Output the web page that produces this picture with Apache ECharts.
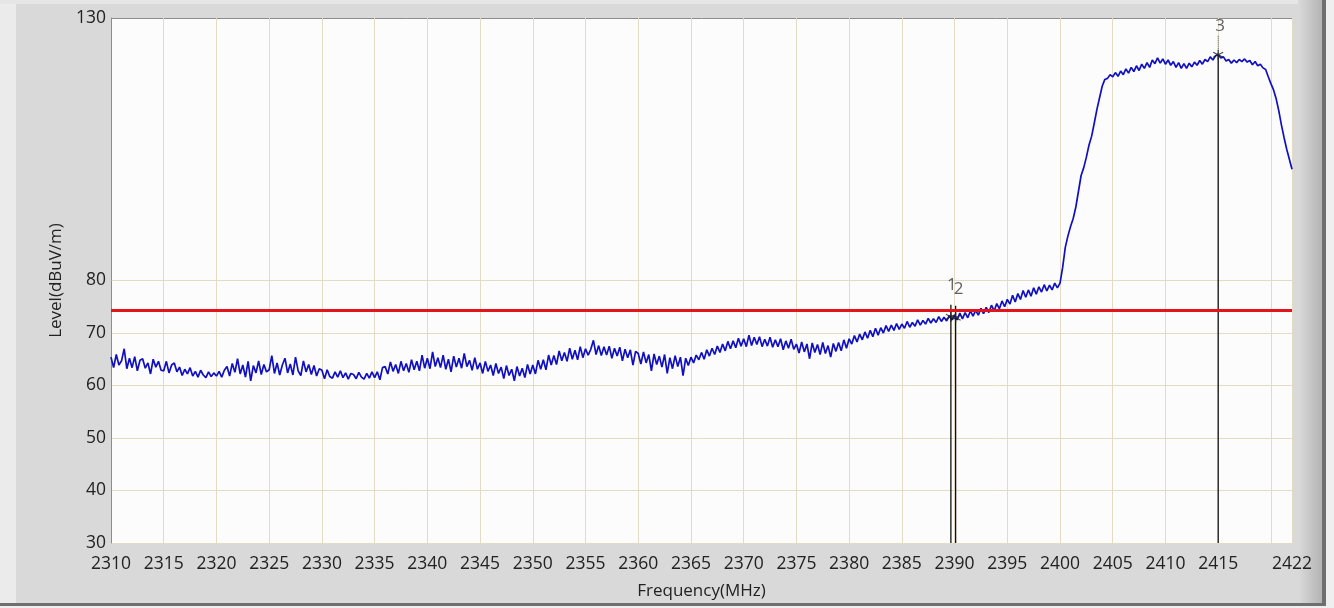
<!DOCTYPE html>
<html>
<head>
<meta charset="utf-8">
<title>Level vs Frequency</title>
<script src="https://cdn.jsdelivr.net/npm/echarts@6/dist/echarts.min.js"></script>
<style>
    html, body { margin: 0; padding: 0; background: #d9d9d9; }
    #chart { width: 1334px; height: 608px; }
</style>
</head>
<body>
<div id="chart"></div>
<script>
    // trace: one level every 0.25 MHz from 2310 MHz
    const freqStart = 2310;
    const freqStep = 0.25;
    const levels = [
        65.4,63.4,65.9,63.9, 64.7,67.0,63.2,65.2, 63.4,65.5,62.8,64.8, 65.1,63.3,64.3,62.2, 65.0,63.5,64.6,62.9,
        62.8,64.6,62.4,63.9, 64.3,62.6,63.5,61.9, 63.1,62.2,63.4,61.8, 62.7,61.6,62.9,62.0, 61.5,62.6,61.7,62.4,
        61.8,62.7,61.6,62.9, 63.6,61.8,64.2,62.5, 65.1,62.2,63.9,61.6, 64.6,60.9,63.8,62.4, 64.7,62.1,64.0,62.6,
        63.0,65.7,62.3,64.3, 62.0,63.9,65.2,62.4, 64.1,62.0,65.4,62.8, 61.9,64.7,62.6,64.0, 62.1,63.8,61.8,63.2,
        62.9,61.3,63.0,61.7, 61.4,62.6,61.6,62.8, 61.5,62.4,61.2,62.3, 62.1,61.3,62.5,61.6, 61.2,62.3,61.4,62.6,
        61.5,62.6,61.1,63.4, 63.6,62.2,64.5,62.7, 64.0,62.3,64.6,62.8, 64.2,62.5,64.9,63.0, 64.6,62.8,65.8,63.3,
        65.2,63.2,66.4,63.6, 65.3,63.4,65.8,63.1, 65.0,62.6,65.6,63.5, 65.2,63.3,66.1,63.6, 64.8,62.9,65.3,63.1,
        64.3,62.3,64.6,62.7, 63.9,61.9,64.2,62.3, 63.5,61.3,63.8,61.9, 63.1,60.9,63.6,61.8, 63.3,61.5,64.0,62.2,
        63.9,62.2,64.8,63.1, 64.9,63.0,65.8,63.9, 65.7,64.0,66.6,64.7, 66.3,64.6,67.1,65.0, 66.7,64.9,67.4,65.3,
        67.0,65.8,66.9,68.6, 65.9,67.6,65.7,67.4, 65.8,67.5,65.2,67.1, 65.6,67.3,64.7,66.9, 65.3,66.8,63.9,66.5,
        66.1,64.1,66.4,64.3, 65.9,62.8,66.0,64.0, 65.6,63.5,65.9,62.3, 65.3,63.2,65.7,63.6, 65.4,61.9,65.2,63.8,
        65.4,64.3,65.8,64.9, 66.3,65.0,66.8,65.6, 67.1,65.9,67.5,66.3, 67.9,66.6,68.4,67.0, 68.5,67.2,69.0,67.5,
        68.9,67.4,69.6,67.6, 69.2,67.8,69.3,67.4, 68.8,67.5,69.2,67.3, 68.7,67.4,68.9,66.8, 68.5,67.1,68.8,66.9,
        67.9,66.2,68.3,66.4, 67.9,65.1,68.1,66.3, 67.8,65.9,68.2,66.1, 67.6,65.4,68.0,66.5, 68.2,66.6,68.7,67.1,
        68.9,67.9,69.5,68.3, 69.8,68.7,70.2,69.0, 70.5,69.3,70.9,69.6, 71.0,70.0,71.4,70.3, 71.5,70.5,71.8,70.7,
        71.7,70.9,72.2,71.1, 72.0,71.3,72.5,71.5, 72.4,71.7,72.8,71.9, 72.7,72.0,73.1,72.2, 73.0,72.3,73.3,72.5,
        73.4,72.5,73.8,72.7, 73.9,72.9,74.2,73.2, 74.3,73.4,74.7,73.7, 74.9,73.9,75.3,74.2, 75.6,74.6,76.1,75.0,
        76.4,75.5,77.2,75.9, 77.5,76.4,78.1,76.8, 78.2,77.0,78.6,77.4, 78.8,77.8,79.2,78.0, 79.1,78.2,79.5,78.6,
        79.5,82.5,86.3,88.5, 90.3,91.8,94.0,97.0, 100.0,101.5,103.5,105.8, 107.5,110.0,112.6,114.8, 117.0,118.3,118.5,119.2,
        118.8,119.6,118.9,119.9, 119.2,120.3,119.5,120.6, 119.8,120.9,120.0,121.2, 120.4,121.5,120.6,122.0, 121.3,122.4,121.4,122.2,
        121.2,122.0,121.0,121.7, 120.6,121.5,120.4,121.3, 120.4,121.4,120.7,121.6, 121.0,121.9,121.2,122.1, 121.7,122.6,122.0,122.8,
        123.1,122.4,122.6,121.8, 122.1,121.4,122.0,121.5, 122.1,121.7,122.2,121.6, 121.9,121.1,121.7,120.9, 121.2,120.5,120.2,118.8,
        117.5,116.3,114.6,112.3, 109.6,107.2,105.0,103.1, 101.2
    ];

    const limitLevel = 74.3;

    const markerNames = ['1', '2', '3'];
    const markerFreqs = [2389.65, 2390.1, 2415];
    const markerLevels = [73.1, 72.9, 123.0];

    const yTicks = [30, 40, 50, 60, 70, 80, 130];

    const gridColor = '#e3dcc4';
    const fontFamily = '"Open Sans", "Noto Sans", sans-serif';

    const chart = echarts.init(document.getElementById('chart'));

    const trace = levels.map((v, i) => [freqStart + i * freqStep, v]);

    // vertical marker lines from the floor up to just above the point
    const lineTop = [markerLevels[0] + 2.3, markerLevels[1] + 2.3, markerLevels[2]];
    const labelDist = [11, 8, 20];
    const labelShiftX = [1, 3, 2];

    const markerSeries = [];
    markerNames.forEach((name, i) => {
        markerSeries.push({
            type: 'line',
            silent: true,
            symbol: 'none',
            z: 4,
            lineStyle: { color: '#111', width: 1.3 },
            data: [[markerFreqs[i], 30], [markerFreqs[i], lineTop[i]]]
        });
        markerSeries.push({
            type: 'scatter',
            silent: true,
            z: 5,
            symbol: 'path://M5,0L5,10M0.7,2.5L9.3,7.5M0.7,7.5L9.3,2.5',
            symbolSize: 10,
            itemStyle: { color: 'transparent', borderColor: '#222', borderWidth: 1.2 },
            data: [[markerFreqs[i], markerLevels[i]]]
        });
        markerSeries.push({
            type: 'scatter',
            silent: true,
            z: 5,
            symbolSize: 0,
            label: {
                show: true,
                position: 'top',
                distance: labelDist[i],
                offset: [labelShiftX[i], 0],
                formatter: name,
                color: '#3a3a3a',
                fontSize: 17,
                fontFamily: fontFamily
            },
            data: [[markerFreqs[i], lineTop[i]]]
        });
    });
    // dotted lead from marker 3 up to its label
    markerSeries.push({
        type: 'line',
        silent: true,
        symbol: 'none',
        z: 4,
        lineStyle: { color: '#555', width: 1, type: 'dotted' },
        data: [[markerFreqs[2], markerLevels[2]], [markerFreqs[2], markerLevels[2] + 3.6]]
    });

    const splitColors = [gridColor, gridColor, gridColor, gridColor, gridColor, gridColor,
        'transparent', 'transparent', 'transparent', 'transparent', '#8c8c8c'];

    const option = {
        backgroundColor: '#d9d9d9',
        animation: false,
        graphic: [
            { type: 'rect', shape: { x: 0, y: 0, width: 16, height: 608 }, style: { fill: '#ebebeb' }, silent: true },
            { type: 'rect', shape: { x: 0, y: 0, width: 1334, height: 4 }, style: { fill: '#e6e6e6' }, silent: true },
            {
                type: 'rect', shape: { x: 1298, y: 0, width: 24, height: 604 }, silent: true,
                style: { fill: new echarts.graphic.LinearGradient(0, 0, 1, 0, [
                    { offset: 0, color: '#dadada' }, { offset: 1, color: '#b4b4b4' }
                ]) }
            },
            { type: 'rect', shape: { x: 1322, y: 0, width: 4, height: 606 }, style: { fill: '#6f6f6f' }, silent: true },
            { type: 'rect', shape: { x: 1326, y: 0, width: 8, height: 608 }, style: { fill: '#efefef' }, silent: true },
            { type: 'rect', shape: { x: 0, y: 603, width: 1326, height: 3 }, style: { fill: '#6f6f6f' }, silent: true },
            { type: 'rect', shape: { x: 0, y: 606, width: 1334, height: 2 }, style: { fill: '#efefef' }, silent: true }
        ],
        grid: {
            left: 111,
            right: 42,
            top: 18,
            bottom: 65,
            show: true,
            backgroundColor: '#fcfcfc',
            borderWidth: 0
        },
        xAxis: {
            type: 'value',
            min: 2310,
            max: 2422,
            interval: 5,
            name: 'Frequency(MHz)',
            nameLocation: 'middle',
            nameGap: 40,
            nameTextStyle: { color: '#222', fontSize: 17, fontFamily: fontFamily },
            axisLine: { show: false },
            axisTick: { show: false },
            axisLabel: {
                margin: 12,
                color: '#222',
                fontSize: 17.5,
                fontFamily: fontFamily,
                formatter: (v) => (v === 2420 ? '' : String(v))
            },
            splitLine: { show: true, lineStyle: { color: gridColor, width: 1 } }
        },
        yAxis: {
            type: 'value',
            min: 30,
            max: 130,
            interval: 10,
            name: 'Level(dBuV/m)',
            nameLocation: 'middle',
            nameGap: 46,
            nameRotate: 90,
            nameTextStyle: { color: '#222', fontSize: 17, fontFamily: fontFamily },
            axisLine: { show: true, lineStyle: { color: '#8c8c8c', width: 1 } },
            axisTick: { show: false },
            axisLabel: {
                margin: 5,
                color: '#222',
                fontSize: 17.5,
                fontFamily: fontFamily,
                formatter: (v) => (yTicks.indexOf(v) >= 0 ? String(v) : '')
            },
            splitLine: { show: true, lineStyle: { color: splitColors, width: 1 } }
        },
        series: [{
            name: 'Level',
            type: 'line',
            symbol: 'none',
            silent: true,
            z: 3,
            lineStyle: { color: '#1010c0', width: 1.7 },
            data: trace,
            markLine: {
                silent: true,
                symbol: 'none',
                label: { show: false },
                lineStyle: { color: '#e3141a', width: 2.8, type: 'solid' },
                data: [{ yAxis: limitLevel }]
            }
        }].concat(markerSeries)
    };

    chart.setOption(option);
    window.onresize = () => {
        chart.resize();
    };
</script>
</body>
</html>
